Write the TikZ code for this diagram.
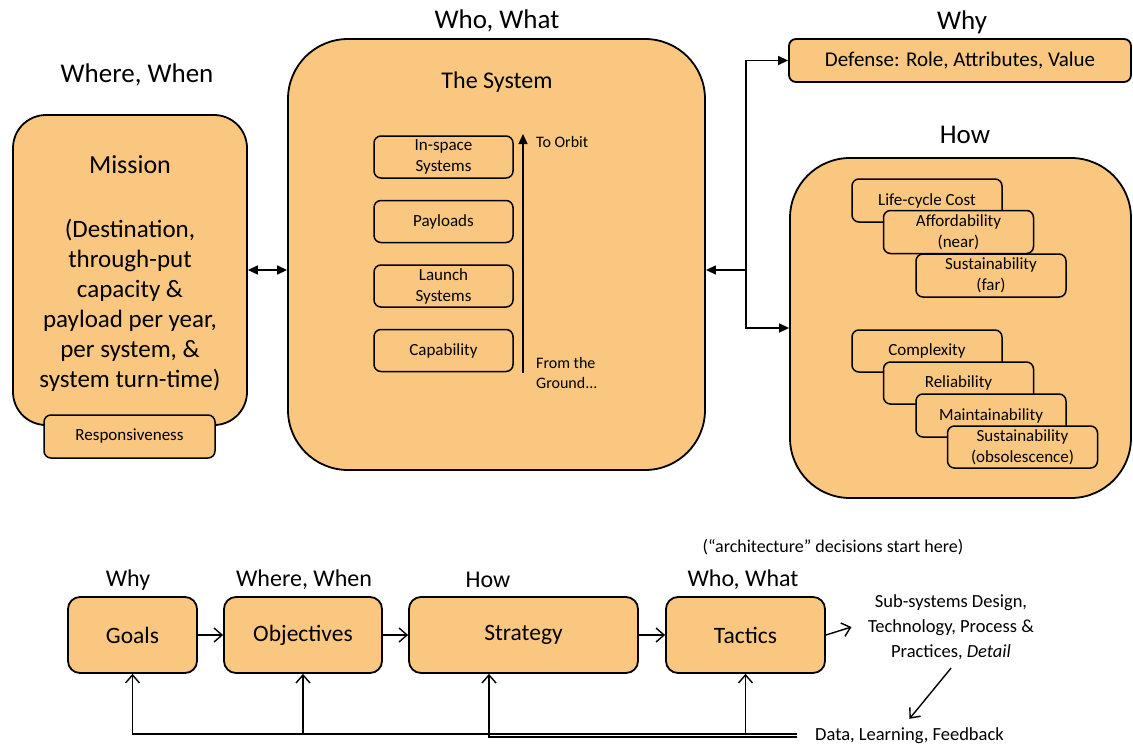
\documentclass[tikz,border=0pt]{standalone}
\usepackage{fontspec}
\setmainfont{Carlito}
\usetikzlibrary{arrows.meta}

\definecolor{boxfill}{RGB}{249,199,128}

\tikzset{
  bigbox/.style={draw=black,fill=boxfill,line width=1.8pt,rounded corners=#1,inner sep=0pt},
  smallbox/.style={draw=black,fill=boxfill,line width=1.5pt,rounded corners=7pt,
    minimum width=#1,minimum height=43pt,inner sep=0pt,align=center,
    font=\fontsize{17}{21}\selectfont},
  headlbl/.style={font=\fontsize{27}{30}\selectfont},
  steplbl/.style={font=\fontsize{24}{28}\selectfont},
  stepbox/.style={draw=black,fill=boxfill,line width=1.8pt,rounded corners=12pt,
    minimum width=#1,minimum height=76pt,inner sep=0pt,
    font=\fontsize{23.5}{28}\selectfont},
  link/.style={line width=1.4pt,-{Triangle[length=10pt,width=9pt]}},
  flow/.style={line width=1.4pt,-{Straight Barb[length=8pt,width=14pt]}},
}

\begin{document}
\begin{tikzpicture}[x=1pt,y=-1pt]
            \useasboundingbox (0,0) rectangle (1133,747);

            % top row: mission, system, why/how
            \node[headlbl] (whereT) at (137,75) {Where, When};
            \node[bigbox=33pt,minimum width=234pt,minimum height=310pt] (mission) at (130,270) {};
            \node[font=\fontsize{26}{30}\selectfont] (missiontitle) at (130,165) {Mission};
            \node[align=center,font=\fontsize{25}{30}\selectfont] (missionbody) at (130,305)
                {(Destination,\\through-put\\capacity \&\\payload per year,\\per system, \&\\system turn-time)};
            \node[smallbox=171pt] (respons) at (129.5,436.5) {Responsiveness};

            \node[headlbl] (whoT) at (497,21) {Who, What};
            \node[bigbox=60pt,minimum width=417pt,minimum height=431pt] (system) at (496.5,254.5) {};
            \node[font=\fontsize{24}{28}\selectfont] (systitle) at (497,82) {The System};
            \node[smallbox=139pt,minimum height=42pt] (inspace) at (443.5,157) {In-space\\Systems};
            \node[smallbox=139pt,minimum height=42pt] (payloads) at (443.5,221.5) {Payloads};
            \node[smallbox=139pt,minimum height=42pt] (launch) at (443.5,286) {Launch\\Systems};
            \node[smallbox=139pt,minimum height=42pt] (capability) at (443.5,350.5) {Capability};
            \coordinate (ground) at (523,373);
            \coordinate (orbit) at (523,134);
            \draw[link] (ground) -- (orbit);
            \node[anchor=west,inner sep=0pt,font=\fontsize{16}{20}\selectfont] (toorbit) at (536,142) {To Orbit};
            \node[anchor=north west,inner sep=0pt,align=left,font=\fontsize{16}{20}\selectfont] (fromground) at (536,357)
                {From the\\Ground...};

            \node[headlbl] (whyT) at (962,22) {Why};
            \node[bigbox=7pt,minimum width=342pt,minimum height=43pt,
                  font=\fontsize{21}{25}\selectfont] (defense) at (960,60.5) {Defense: Role, Attributes, Value};
            \node[headlbl] (howT) at (965,135) {How};
            \node[bigbox=60pt,minimum width=341pt,minimum height=340pt] (how) at (960.5,328) {};

            \node[smallbox=150pt] (lcc) at (927,200.5) {Life-cycle Cost};
            \node[smallbox=150pt] (afford) at (958.5,232) {Affordability\\(near)};
            \node[smallbox=150pt] (sustfar) at (991,275.5) {Sustainability\\(far)};

            \node[smallbox=150pt,minimum height=42pt] (complex) at (927,351) {Complexity};
            \node[smallbox=150pt,minimum height=42pt] (reliab) at (958.5,383) {Reliability};
            \node[smallbox=150pt,minimum height=43pt] (maint) at (991,415.5) {Maintainability};
            \node[smallbox=150pt,minimum height=42pt] (sustobs) at (1022.5,447) {Sustainability\\(obsolescence)};

            % connectors, top row
            \draw[line width=1.4pt,{Triangle[length=10pt,width=9pt]}-{Triangle[length=10pt,width=9pt]}]
                (mission.east) -- (mission.east -| system.west);
            \coordinate (split) at (746,270);
            \draw[link] (split) |- (defense.west);
            \draw[link] (split) |- (how.west);
            \draw[link] (split) -- (split -| system.east);

            % bottom row: goals to tactics
            \node[font=\fontsize{18}{22}\selectfont] (archnote) at (833,547) {(“architecture” decisions start here)};
            \node[steplbl] (whyB) at (128,580) {Why};
            \node[steplbl] (whereB) at (304,580) {Where, When};
            \node[steplbl] (howB) at (488,580) {How};
            \node[steplbl] (whoB) at (743,580) {Who, What};

            \node[stepbox=129pt] (goals) at (132.5,635) {Goals};
            \node[stepbox=158pt] (objectives) at (303,635) {Objectives};
            \node[stepbox=229pt] (strategy) at (523.5,635) {Strategy};
            \node[stepbox=159pt] (tactics) at (745.5,635) {Tactics};

            \draw[flow] (goals) -- (objectives);
            \draw[flow] (objectives) -- (strategy);
            \draw[flow] (strategy) -- (tactics);

            \node[align=center,font=\fontsize{18.5}{25}\selectfont] (detail) at (951,627)
                {Sub-systems Design,\\Technology, Process \&\\Practices, \textit{Detail}};
            \node[anchor=west,inner sep=0pt,font=\fontsize{18.5}{22}\selectfont] (data) at (815,736) {Data, Learning, Feedback};
            \draw[flow] (tactics.east) -- ([xshift=-13pt]detail.west);
            \draw[flow] ([yshift=-5pt]detail.south) -- ([yshift=9pt]data.north);

            % feedback loop
            \coordinate (fbend) at (797,734);
            \draw[flow] (fbend) -| (goals.south);
            \draw[flow] (objectives.south |- fbend) -- (objectives.south);
            \draw[flow] ([yshift=-3pt]fbend) -| ([xshift=-34.5pt]strategy.south);
            \draw[flow] (tactics.south |- fbend) -- (tactics.south);
\end{tikzpicture}
\end{document}
